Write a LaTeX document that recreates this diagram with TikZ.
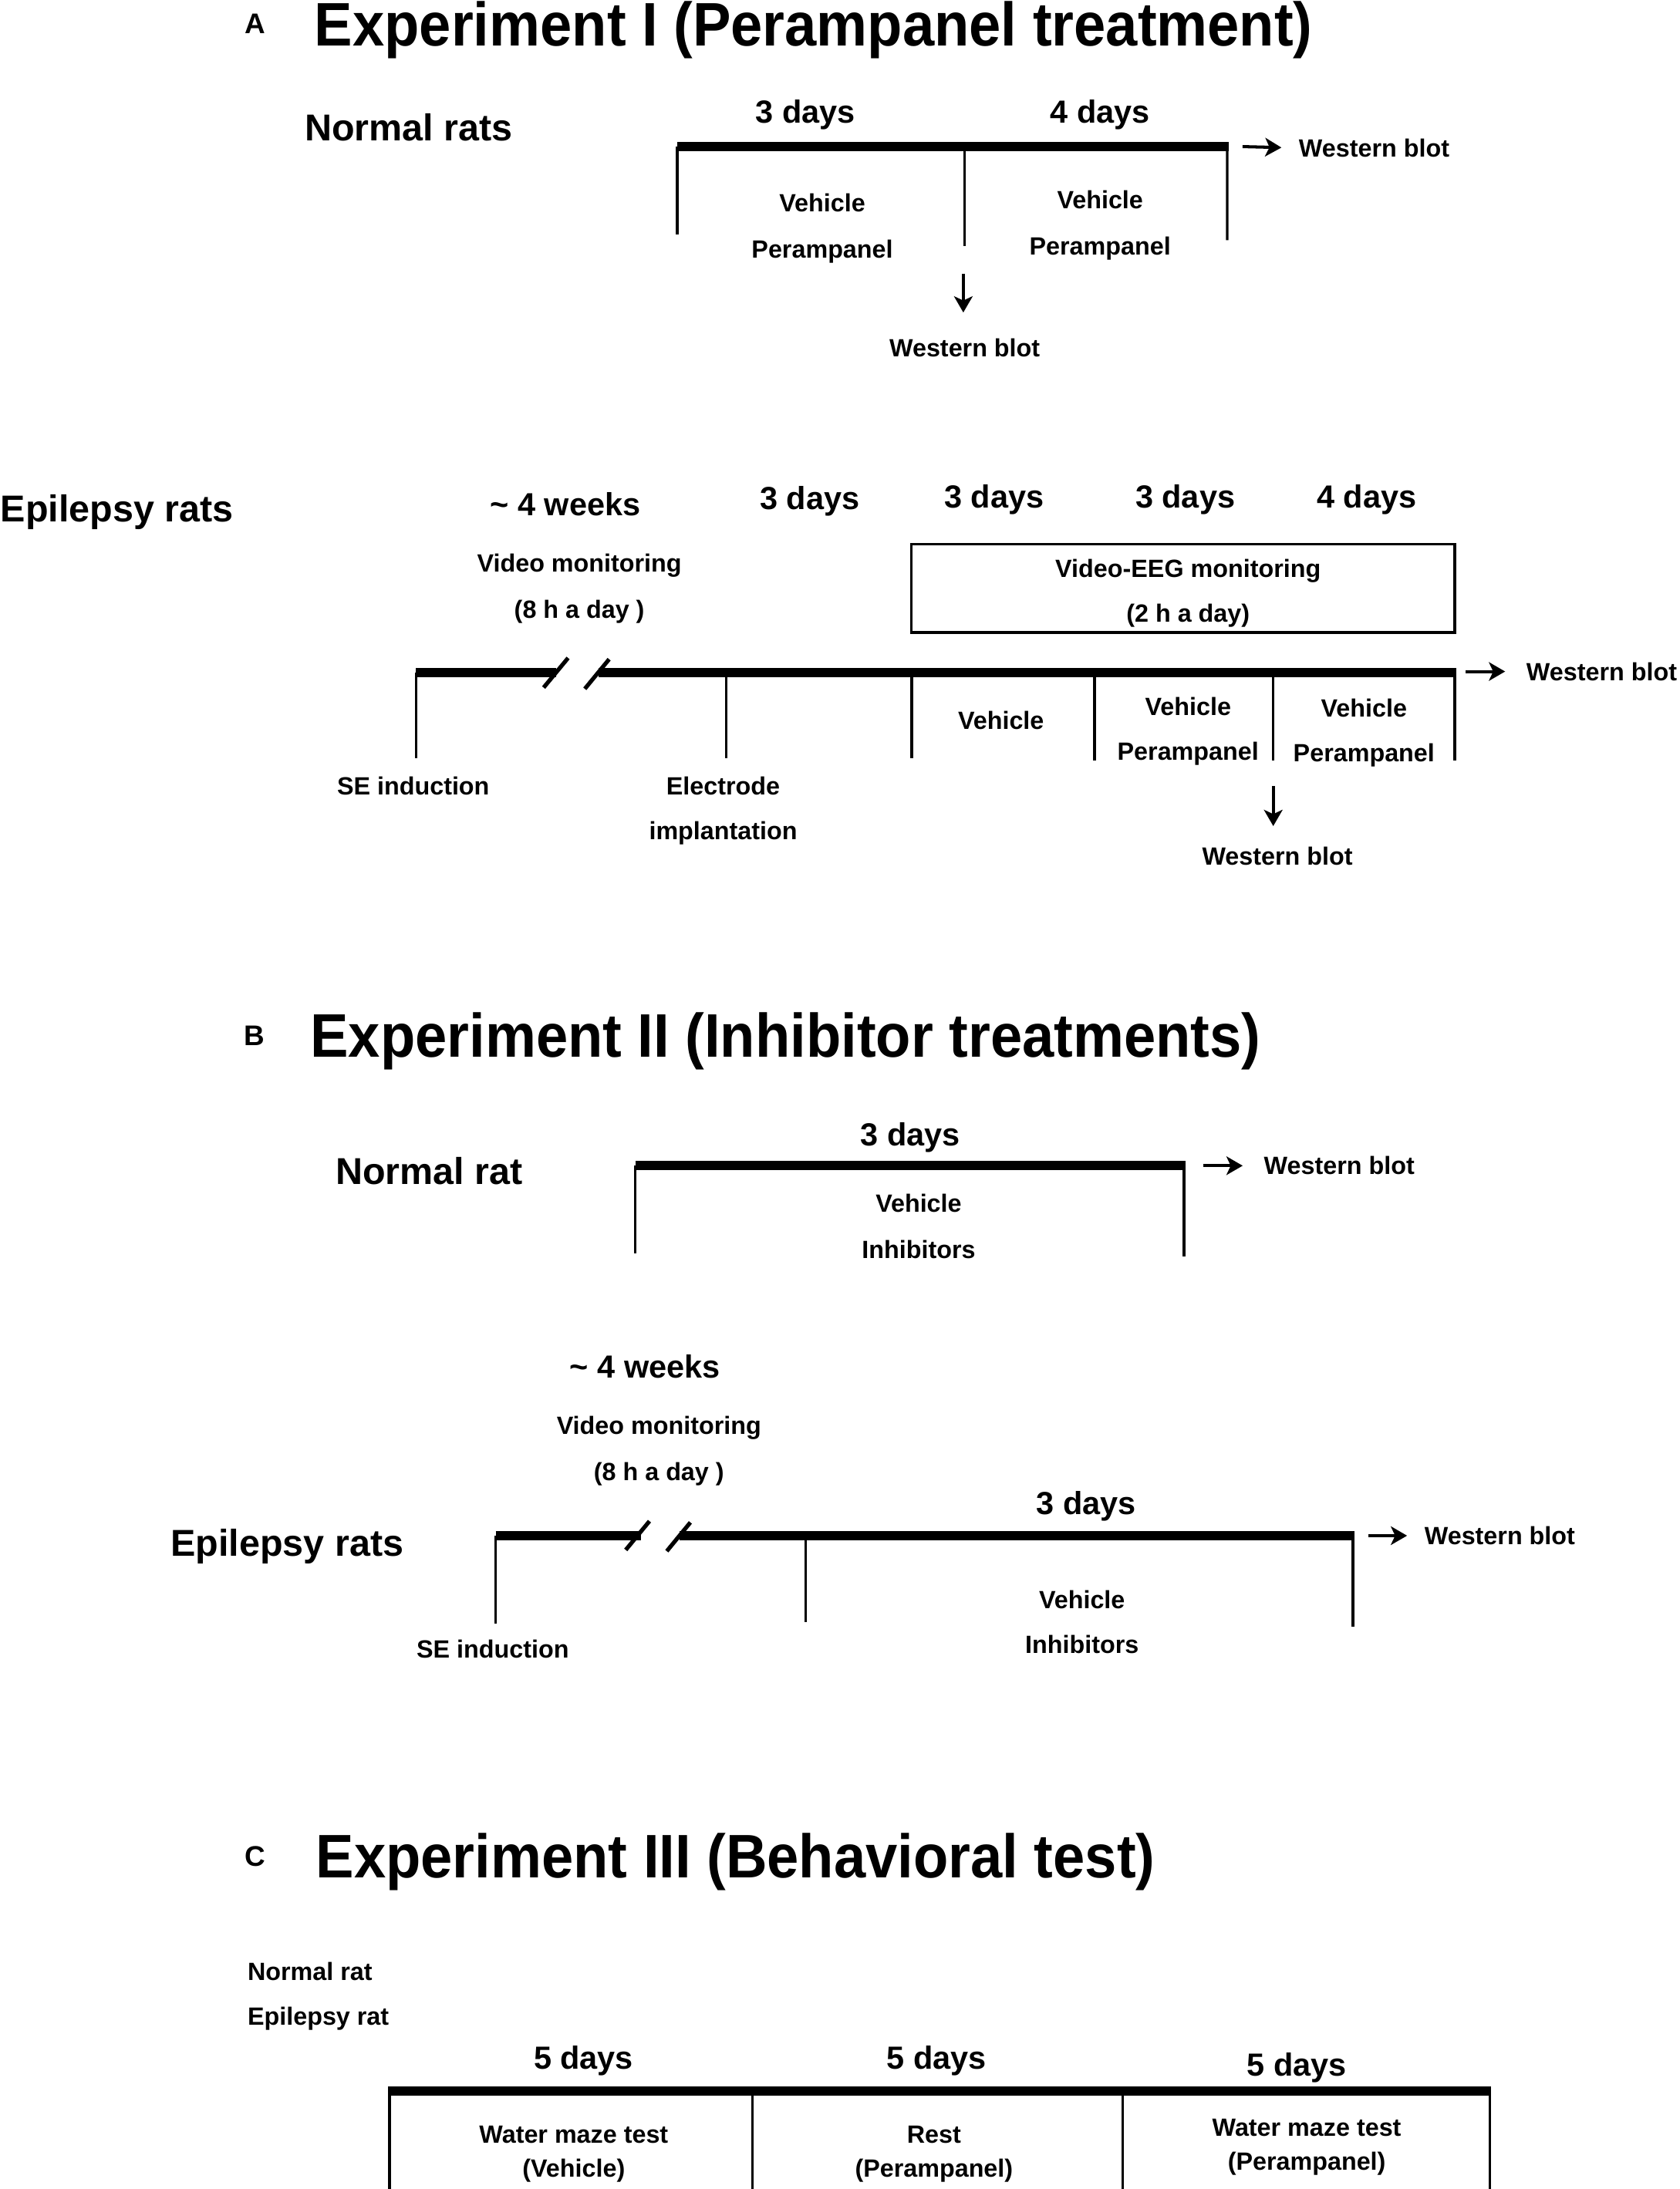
\documentclass[tikz,border=0pt]{standalone}
\usepackage{fontspec}
\setmainfont{Liberation Sans}
\newfontfamily\ttlfont[FakeStretch=0.93]{Liberation Sans}
\usetikzlibrary{arrows.meta}
\begin{document}
\begin{tikzpicture}[x=0.018105cm,y=-0.018105cm,
  thickline/.style={line width=3.4pt},
  tick/.style={line width=0.95pt},
  brk/.style={line width=1.5pt},
  arr/.style={line width=1.15pt,-{Stealth[length=2.1mm,width=2.4mm,inset=0.55mm]}},
  ttl/.style={font=\fontsize{22.7}{26}\ttlfont\bfseries, inner sep=0pt, anchor=base west},
  letter/.style={font=\fontsize{10.5}{12}\selectfont\bfseries, inner sep=0pt},
  big/.style={font=\fontsize{13.8}{16}\selectfont\bfseries, inner sep=0pt},
  mid/.style={font=\fontsize{11.8}{14}\selectfont\bfseries, inner sep=0pt},
  sm/.style={font=\fontsize{9.2}{11}\selectfont\bfseries, inner sep=0pt},
  box/.style={draw, line width=0.9pt}
]
\useasboundingbox (0,0) rectangle (1203,1568);

% ================= A =================
\node[letter] (lA) at (183,17) {A};
\node[ttl] (tA) at (225,33) {Experiment I (Perampanel treatment)};
\node[big, anchor=west] (nrA) at (218,91) {Normal rats};
\node[mid] (dA1) at (577,82) {3 days};
\node[mid] (dA2) at (788,82) {4 days};
\coordinate (a0) at (485,105);
\coordinate (a1) at (691,105);
\coordinate (a2) at (880,105);
\coordinate (a0b) at (485,168);
\coordinate (a1b) at (691,176);
\coordinate (a2b) at (879,172);
\draw[thickline] (a0) -- (a2);
\draw[tick] (a0) -- (a0b);
\draw[tick] (a1) -- (a1b);
\draw[tick] ([xshift=-0.5pt]a2) -- (a2b);
\node[sm] (vA1) at (589,145) {Vehicle};
\node[sm] (pA1) at (589,180) {Perampanel};
\node[sm] (vA2) at (788,143) {Vehicle};
\node[sm] (pA2) at (788,178) {Perampanel};
\node[sm, anchor=west] (wbA1) at (930,106) {Western blot};
\coordinate (a2r) at (890,105);
\draw[arr, shorten >=2.2mm] (a2r) -- (wbA1.west);
\node[sm] (wbA2) at (691,249) {Western blot};
\coordinate (a1d) at (690,196);
\draw[arr, shorten >=3.3mm] (a1d) -- (wbA2.north -| a1d);

% ---- Epilepsy rats (A)
\node[big, anchor=west] (erA) at (0,367) {Epilepsy rats};
\node[mid] (wkA) at (405,361) {\textasciitilde{} 4 weeks};
\node[sm] (vmA) at (415,405) {Video monitoring};
\node[sm] (hA) at (415,438) {(8 h a day )};
\node[mid] (eD1) at (580,359) {3 days};
\node[mid] (eD2) at (712,358) {3 days};
\node[mid] (eD3) at (849,358) {3 days};
\node[mid] (eD4) at (979,358) {4 days};
\coordinate (bx0) at (653,390);
\coordinate (bx1) at (1042,453);
\draw[box] (bx0) rectangle (bx1);
\node[sm] (eeg) at (851,409) {Video-EEG monitoring};
\node[sm] (eeg2) at (851,441) {(2 h a day)};

\coordinate (e0) at (298,482);
\coordinate (e0e) at (398.6,482);
\coordinate (e1s) at (429,482);
\coordinate (e1) at (520,482);
\coordinate (e2) at (653,482);
\coordinate (e3) at (784,482);
\coordinate (e4) at (912,482);
\coordinate (e5) at (1043,482);
\draw[thickline] (e0) -- (e0e);
\draw[thickline] (e1s) -- (e5);
\coordinate (s1a) at (389.4,492.5);
\coordinate (s1b) at (406.9,471.3);
\coordinate (s2a) at (418.9,493.4);
\coordinate (s2b) at (436.3,472.2);
\draw[brk] (s1a) -- (s1b);
\draw[brk] (s2a) -- (s2b);
\draw[tick] (e0) -- ++(0,61);
\draw[tick] (e1) -- ++(0,61);
\draw[tick] (e2) -- ++(0,61);
\draw[tick] (e3) -- ++(0,63);
\draw[tick] (e4) -- ++(0,63);
\draw[tick] ([xshift=-0.5pt]e5) -- ++(0,63);
\node[sm] (se1) at (296,563) {SE induction};
\node[sm] (el1) at (518,563) {Electrode};
\node[sm] (el2) at (518,597) {implantation};
\node[sm] (ev1) at (717,516) {Vehicle};
\node[sm] (ev2) at (851,506) {Vehicle};
\node[sm] (ep2) at (851,540) {Perampanel};
\node[sm] (ev3) at (977,507) {Vehicle};
\node[sm] (ep3) at (977,541) {Perampanel};
\node[sm, anchor=west] (wbE1) at (1093,481) {Western blot};
\coordinate (e5r) at (1050,481);
\draw[arr, shorten >=2.7mm] (e5r) -- (wbE1.west);
\node[sm] (wbE2) at (915,613) {Western blot};
\coordinate (e4d) at (912,563);
\draw[arr, shorten >=2.6mm] (e4d) -- (wbE2.north -| e4d);

% ================= B =================
\node[letter] (lB) at (182,742) {B};
\node[ttl] (tB) at (222,757) {Experiment II (Inhibitor treatments)};
\node[big, anchor=west] (nrB) at (240,839) {Normal rat};
\node[mid] (dB1) at (652,815) {3 days};
\coordinate (b0) at (455,835);
\coordinate (b1) at (849,835);
\draw[thickline] (b0) -- (b1);
\draw[tick] (b0) -- ++(0,63);
\draw[tick] ([xshift=-0.5pt]b1) -- ++(0,65);
\node[sm] (vB) at (658,862) {Vehicle};
\node[sm] (iB) at (658,895) {Inhibitors};
\node[sm, anchor=west] (wbB1) at (905,835) {Western blot};
\coordinate (b1r) at (862,835);
\draw[arr, shorten >=2.7mm] (b1r) -- (wbB1.west);

\node[mid] (wkB) at (462,979) {\textasciitilde{} 4 weeks};
\node[sm] (vmB) at (472,1023) {Video monitoring};
\node[sm] (hB) at (472,1056) {(8 h a day )};
\node[big, anchor=west] (erB) at (122,1108) {Epilepsy rats};
\node[mid] (dB2) at (778,1079) {3 days};
\coordinate (c0) at (355,1100);
\coordinate (c0e) at (458.9,1100);
\coordinate (c1s) at (486.5,1100);
\coordinate (c1) at (577,1100);
\coordinate (c2) at (970,1100);
\draw[thickline] (c0) -- (c0e);
\draw[thickline] (c1s) -- (c2);
\coordinate (t1a) at (448.2,1110.2);
\coordinate (t1b) at (465.2,1089.6);
\coordinate (t2a) at (477.6,1111.1);
\coordinate (t2b) at (494.5,1090.5);
\draw[brk] (t1a) -- (t1b);
\draw[brk] (t2a) -- (t2b);
\draw[tick] (c0) -- ++(0,63);
\draw[tick] (c1) -- ++(0,62);
\draw[tick] ([xshift=-0.5pt]c2) -- ++(0,65);
\node[sm] (vB2) at (775,1146) {Vehicle};
\node[sm] (iB2) at (775,1178) {Inhibitors};
\node[sm] (se2) at (353,1181) {SE induction};
\node[sm, anchor=west] (wbB2) at (1020,1100) {Western blot};
\coordinate (c2r) at (980,1100);
\draw[arr, shorten >=2.2mm] (c2r) -- (wbB2.west);

% ================= C =================
\node[letter] (lC) at (183,1330) {C};
\node[ttl] (tC) at (226,1345) {Experiment III (Behavioral test)};
\node[sm, anchor=west] (nrC) at (177,1412) {Normal rat};
\node[sm, anchor=west] (erC) at (177,1446) {Epilepsy rat};
\node[mid] (fd1) at (418,1476) {5 days};
\node[mid] (fd2) at (671,1476) {5 days};
\node[mid] (fd3) at (929,1481) {5 days};
\coordinate (g0) at (278,1498);
\coordinate (g1) at (539,1498);
\coordinate (g2) at (804,1498);
\coordinate (g3) at (1068,1498);
\draw[thickline] (g0) -- (g3);
\draw[tick] ([xshift=0.5pt]g0) -- ++(0,70);
\draw[tick] (g1) -- ++(0,70);
\draw[tick] (g2) -- ++(0,70);
\draw[tick] ([xshift=-0.5pt]g3) -- ++(0,70);
\node[sm] (wm1) at (411,1529) {Water maze test};
\node[sm] (wv1) at (411,1555) {(Vehicle)};
\node[sm] (rs) at (669,1529) {Rest};
\node[sm] (rp) at (669,1555) {(Perampanel)};
\node[sm] (wm2) at (936,1524) {Water maze test};
\node[sm] (wp2) at (936,1550) {(Perampanel)};
\end{tikzpicture}
\end{document}
